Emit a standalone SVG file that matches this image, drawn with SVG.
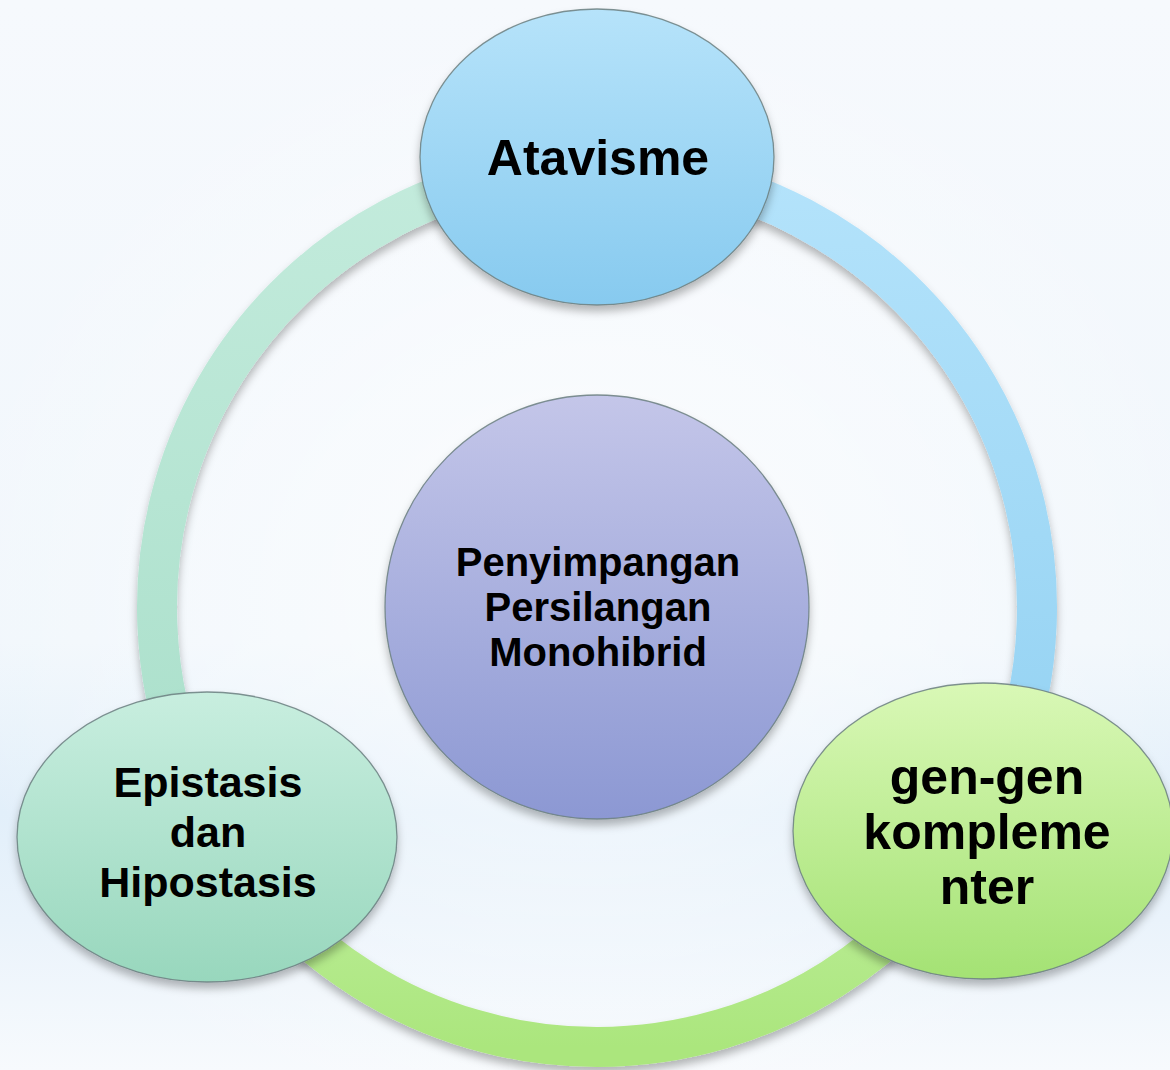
<svg xmlns="http://www.w3.org/2000/svg" width="1170" height="1070" viewBox="0 0 1170 1070">
  <defs>
    <linearGradient id="bg" x1="0" y1="0" x2="0" y2="1">
      <stop offset="0" stop-color="#f6f9fd"/>
      <stop offset="0.6" stop-color="#f1f7fc"/>
      <stop offset="0.76" stop-color="#e2effa"/>
      <stop offset="0.86" stop-color="#eaf3fb"/>
      <stop offset="1" stop-color="#f7fafd"/>
    </linearGradient>
    <radialGradient id="bgGlow" cx="0.5" cy="0.55" r="0.55">
      <stop offset="0" stop-color="#ffffff" stop-opacity="0.7"/>
      <stop offset="1" stop-color="#ffffff" stop-opacity="0"/>
    </radialGradient>
    <linearGradient id="ringTeal" x1="0" y1="0" x2="0" y2="1">
      <stop offset="0" stop-color="#c3ebdc"/>
      <stop offset="1" stop-color="#a9dfca"/>
    </linearGradient>
    <linearGradient id="ringBlue" x1="0" y1="0" x2="0" y2="1">
      <stop offset="0" stop-color="#b4e3fb"/>
      <stop offset="1" stop-color="#92d1f2"/>
    </linearGradient>
    <linearGradient id="ringGreen" x1="0" y1="0" x2="0" y2="1">
      <stop offset="0" stop-color="#c0ef9f"/>
      <stop offset="1" stop-color="#abe67d"/>
    </linearGradient>
    <linearGradient id="gTop" x1="0" y1="0" x2="0" y2="1">
      <stop offset="0" stop-color="#b6e3fa"/>
      <stop offset="1" stop-color="#87caef"/>
    </linearGradient>
    <linearGradient id="gLeft" x1="0" y1="0" x2="0" y2="1">
      <stop offset="0" stop-color="#c8eedf"/>
      <stop offset="1" stop-color="#98d7bd"/>
    </linearGradient>
    <linearGradient id="gRight" x1="0" y1="0" x2="0" y2="1">
      <stop offset="0" stop-color="#d9f8b6"/>
      <stop offset="1" stop-color="#a4e274"/>
    </linearGradient>
    <linearGradient id="gCenter" x1="0" y1="0" x2="0" y2="1">
      <stop offset="0" stop-color="#c4c6e9"/>
      <stop offset="1" stop-color="#8c98d3"/>
    </linearGradient>
    <filter id="shadow" x="-20%" y="-20%" width="140%" height="140%">
      <feDropShadow dx="0" dy="6" stdDeviation="4" flood-color="#000000" flood-opacity="0.28"/>
    </filter>
  </defs>
  <style>
    .ring { fill: none; stroke-width: 40; }
    .node { stroke: #6b7f80; stroke-width: 1.3; stroke-opacity: 0.85; filter: url(#shadow); }
    .lbl { font-family: "Liberation Sans", Arial, sans-serif; font-weight: bold; fill: #000000; text-anchor: middle; }
  </style>

  <rect x="0" y="0" width="1170" height="1070" fill="url(#bg)"/>
  <rect x="0" y="0" width="1170" height="1070" fill="url(#bgGlow)"/>

  <g id="connectors" filter="url(#shadow)">
    <path class="ring" stroke="url(#ringBlue)" d="M 597 167 A 440 440 0 0 1 978.05 827"/>
    <path class="ring" stroke="url(#ringGreen)" d="M 978.05 827 A 440 440 0 0 1 215.95 827"/>
    <path class="ring" stroke="url(#ringTeal)" d="M 215.95 827 A 440 440 0 0 1 597 167"/>
  </g>

  <g id="node-center">
    <circle class="node" cx="597" cy="607" r="212" fill="url(#gCenter)"/>
    <text class="lbl" font-size="40" x="598" y="576">Penyimpangan</text>
    <text class="lbl" font-size="40" x="598" y="621">Persilangan</text>
    <text class="lbl" font-size="40" x="598" y="666">Monohibrid</text>
  </g>

  <g id="node-atavisme">
    <ellipse class="node" cx="597" cy="157" rx="177" ry="148" fill="url(#gTop)"/>
    <text class="lbl" font-size="50" x="598" y="175">Atavisme</text>
  </g>

  <g id="node-epistasis">
    <ellipse class="node" cx="207" cy="837" rx="190" ry="145" fill="url(#gLeft)"/>
    <text class="lbl" font-size="43" x="208" y="797">Epistasis</text>
    <text class="lbl" font-size="43" x="208" y="847">dan</text>
    <text class="lbl" font-size="43" x="208" y="897">Hipostasis</text>
  </g>

  <g id="node-komplementer">
    <ellipse class="node" cx="983" cy="831" rx="190" ry="148" fill="url(#gRight)"/>
    <text class="lbl" font-size="50" x="987" y="794">gen-gen</text>
    <text class="lbl" font-size="50" x="987" y="849">kompleme</text>
    <text class="lbl" font-size="50" x="987" y="904">nter</text>
  </g>
</svg>
